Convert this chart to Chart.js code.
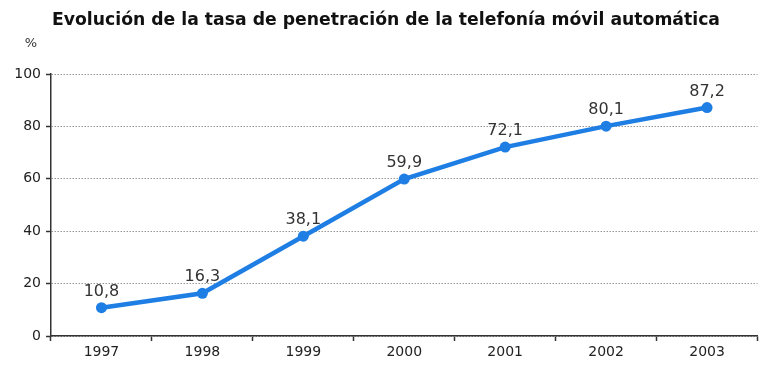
<!DOCTYPE html>
<html>
<head>
<meta charset="utf-8">
<script src="https://cdn.jsdelivr.net/npm/chart.js@4.4.1/dist/chart.umd.min.js"></script>
<style>
  html, body { margin: 0; padding: 0; background: #fff; }
  #wrap { width: 763px; height: 367px; }
</style>
</head>
<body>
<div id="wrap"><canvas id="chart" width="763" height="367"></canvas></div>
<script>
const years = ['1997', '1998', '1999', '2000', '2001', '2002', '2003']
const penetration = [10.8, 16.3, 38.1, 59.9, 72.1, 80.1, 87.2]
const yTicks = [0, 20, 40, 60, 80, 100]

const titleText = 'Evolución de la tasa de penetración de la telefonía móvil automática'
const blue = '#1f7ee4'
const fam = '"DejaVu Sans", Arial, sans-serif'

// title, "%" unit and value labels above the points
const extras = {
    id: 'extras',
    afterDraw(chart) {
        const c = chart.ctx
        c.save()
        c.fillStyle = '#111'
        c.font = 'bold 17px ' + fam
        c.textAlign = 'center'
        c.textBaseline = 'middle'
        const w = c.measureText(titleText).width
        c.save()
        c.translate(386, 21)
        c.scale(668 / w, 1)
        c.fillText(titleText, 0, 0)
        c.restore()
        c.font = '13px ' + fam
        c.fillStyle = '#333'
        c.fillText('%', 31, 44)
        const meta = chart.getDatasetMeta(0)
        c.font = '16px ' + fam
        c.textBaseline = 'alphabetic'
        meta.data.forEach((pt, i) => {
            c.fillText(String(penetration[i]).replace('.', ','), pt.x, pt.y - 12)
        })
        c.restore()
    }
}

new Chart(document.querySelector('#chart').getContext('2d'), {
    type: 'line',
    data: {
        labels: years,
        datasets: [{
            data: penetration,
            borderColor: blue,
            backgroundColor: blue,
            borderWidth: 4.5,
            pointRadius: 5.5,
            pointBorderWidth: 0,
            pointHoverRadius: 5.5,
            tension: 0
        }]
    },
    options: {
        responsive: false,
        animation: false,
        layout: { padding: { top: 74, right: 3, left: 0, bottom: 0 } },
        plugins: { legend: { display: false }, tooltip: { enabled: false } },
        scales: {
            x: {
                offset: true,
                grid: { offset: true, drawOnChartArea: false, tickLength: 5, tickColor: '#333', tickWidth: 1.5 },
                border: { color: '#333', width: 1.5 },
                ticks: { color: '#222', font: { size: 14, family: fam }, padding: 3 },
                afterFit(s) { s.height = 31 }
            },
            y: {
                min: 0,
                max: 100,
                afterBuildTicks(s) { s.ticks = yTicks.map(v => ({ value: v })) },
                grid: { color: '#999', tickLength: 5, tickColor: '#333', tickBorderDash: [], tickWidth: 1.5 },
                border: { color: '#333', width: 1.5, dash: [1.5, 1.5] },
                ticks: { color: '#222', font: { size: 14, family: fam }, padding: 5 },
                afterFit(s) { s.width = 51 }
            }
        }
    },
    plugins: [extras]
})
</script>
</body>
</html>
